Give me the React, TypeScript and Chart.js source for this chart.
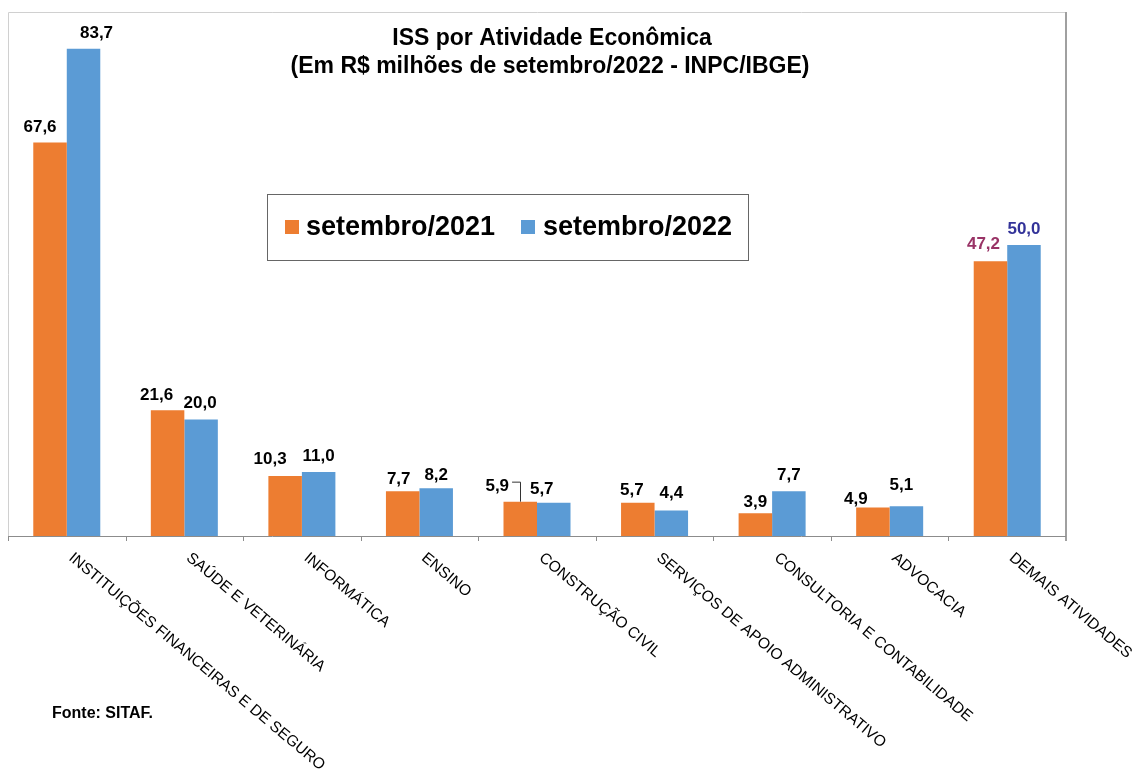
import React, { useEffect, useRef } from "react";
import { Chart, registerables } from "chart.js";

Chart.register(...registerables);

const categories = [
  "INSTITUIÇÕES FINANCEIRAS E DE SEGURO",
  "SAÚDE E VETERINÁRIA",
  "INFORMÁTICA",
  "ENSINO",
  "CONSTRUÇÃO CIVIL",
  "SERVIÇOS DE APOIO ADMINISTRATIVO",
  "CONSULTORIA E CONTABILIDADE",
  "ADVOCACIA",
  "DEMAIS ATIVIDADES",
];
const sep2021 = [67.6, 21.6, 10.3, 7.7, 5.9, 5.7, 3.9, 4.9, 47.2];
const sep2022 = [83.7, 20.0, 11.0, 8.2, 5.7, 4.4, 7.7, 5.1, 50.0];
const seriesNames = ["setembro/2021", "setembro/2022"];
const titleLines = ["ISS por Atividade Econômica", "(Em R$ milhões de setembro/2022 - INPC/IBGE)"];
const sourceText = "Fonte: SITAF.";

// label nudges (px) relative to bar center / bar top
const labelDx = [
  [-10, -11, -15, -4, -23, -6, 0, -17, -7],
  [13, -1, 0, 0, -12, 0, 0, -5, 0],
];
const labelDy = [
  [-15, -15, -17, -12, -15, -13, -11, -8, -17],
  [-15, -16, -16, -13, -14, -17, -16, -21, -16],
];
const labelColors = [
  ["#000", "#000", "#000", "#000", "#000", "#000", "#000", "#000", "#993366"],
  ["#000", "#000", "#000", "#000", "#000", "#000", "#000", "#000", "#333399"],
];
const ORANGE = "#ED7D31";
const BLUE = "#5B9BD5";
const FONT = "'Liberation Sans', Arial, sans-serif";

const fmt = (v: number) => v.toFixed(1).replace(".", ",");

const decorPlugin = {
  id: "decor",
  afterDatasetsDraw(chart: any) {
    const ctx = chart.ctx as CanvasRenderingContext2D;
    const ca = chart.chartArea;
    const xs = chart.scales.x;
    ctx.save();

    // frame
    ctx.lineWidth = 1;
    ctx.strokeStyle = "#d0d0d0";
    ctx.beginPath();
    ctx.moveTo(ca.left + 0.5, ca.bottom);
    ctx.lineTo(ca.left + 0.5, ca.top + 0.5);
    ctx.lineTo(ca.right, ca.top + 0.5);
    ctx.stroke();
    ctx.strokeStyle = "#a0a0a0";
    ctx.lineWidth = 2;
    ctx.beginPath();
    ctx.moveTo(ca.right, ca.top);
    ctx.lineTo(ca.right, ca.bottom + 5);
    ctx.stroke();

    // x axis line + ticks
    ctx.strokeStyle = "#8c8c8c";
    ctx.lineWidth = 1;
    ctx.beginPath();
    ctx.moveTo(ca.left, ca.bottom + 0.5);
    ctx.lineTo(ca.right, ca.bottom + 0.5);
    const n = categories.length;
    const step = (ca.right - ca.left) / n;
    for (let i = 0; i < n; i++) {
      const tx = Math.round(ca.left + i * step) + 0.5;
      ctx.moveTo(tx, ca.bottom);
      ctx.lineTo(tx, ca.bottom + 5);
    }
    ctx.stroke();

    // category labels (rotated clockwise)
    ctx.fillStyle = "#000";
    ctx.font = `15.5px ${FONT}`;
    ctx.textAlign = "left";
    ctx.textBaseline = "top";
    categories.forEach((c, i) => {
      const cx = xs.getPixelForValue(i);
      ctx.save();
      ctx.translate(cx + 9, ca.bottom + 14);
      ctx.rotate((40 * Math.PI) / 180);
      ctx.fillText(c, 0, 0);
      ctx.restore();
    });

    // data labels
    ctx.font = `bold 17px ${FONT}`;
    ctx.textAlign = "center";
    ctx.textBaseline = "middle";
    [0, 1].forEach((d) => {
      const meta = chart.getDatasetMeta(d);
      meta.data.forEach((bar: any, i: number) => {
        const v = chart.data.datasets[d].data[i] as number;
        const lx = bar.x + labelDx[d][i];
        const ly = bar.y + labelDy[d][i];
        ctx.fillStyle = labelColors[d][i];
        const t = fmt(v);
        ctx.fillText(t, lx, ly);
        if (d === 0 && i === 4) {
          const w = ctx.measureText(t).width;
          ctx.strokeStyle = "#333";
          ctx.lineWidth = 1;
          ctx.beginPath();
          ctx.moveTo(lx + w / 2 + 3, ly - 4.5);
          ctx.lineTo(Math.round(bar.x) + 0.5, ly - 4.5);
          ctx.lineTo(Math.round(bar.x) + 0.5, bar.y);
          ctx.stroke();
        }
      });
    });

    // title
    ctx.fillStyle = "#000";
    ctx.font = `bold 23px ${FONT}`;
    ctx.textAlign = "center";
    ctx.textBaseline = "middle";
    ctx.fillText(titleLines[0], 552, 39);
    ctx.fillText(titleLines[1], 550, 67);

    // legend
    ctx.fillStyle = "#fff";
    ctx.fillRect(267, 194, 481, 66);
    ctx.strokeStyle = "#666";
    ctx.lineWidth = 1;
    ctx.strokeRect(267.5, 194.5, 481, 66);
    ctx.fillStyle = ORANGE;
    ctx.fillRect(285, 220, 14, 14);
    ctx.fillStyle = BLUE;
    ctx.fillRect(521, 220, 14, 14);
    ctx.fillStyle = "#000";
    ctx.font = `bold 27px ${FONT}`;
    ctx.textAlign = "left";
    ctx.fillText(seriesNames[0], 306, 228);
    ctx.fillText(seriesNames[1], 543, 228);

    // source
    ctx.font = `bold 16px ${FONT}`;
    ctx.fillText(sourceText, 52, 714);

    ctx.restore();
  },
};

export default function App() {
  const ref = useRef<HTMLCanvasElement>(null);
  useEffect(() => {
    if (!ref.current) return;
    const chart = new Chart(ref.current, {
      type: "bar",
      data: {
        labels: categories,
        datasets: [
          {
            label: seriesNames[0],
            data: sep2021,
            backgroundColor: ORANGE,
            borderWidth: 0,
            categoryPercentage: 0.57,
            barPercentage: 1,
          },
          {
            label: seriesNames[1],
            data: sep2022,
            backgroundColor: BLUE,
            borderWidth: 0,
            categoryPercentage: 0.57,
            barPercentage: 1,
          },
        ],
      },
      options: {
        animation: false,
        responsive: false,
        maintainAspectRatio: false,
        layout: { padding: { left: 8, top: 12, right: 70, bottom: 237 } },
        plugins: {
          legend: { display: false },
          title: { display: false },
          tooltip: { enabled: false },
        },
        scales: {
          x: { display: false },
          y: { display: false, min: 0, max: 90 },
        },
      },
      plugins: [decorPlugin],
    });
    return () => chart.destroy();
  }, []);
  return (
    <div style={{ position: "fixed", left: 0, top: 0, width: 1136, height: 773, background: "#fff" }}>
      <canvas ref={ref} width={1136} height={773} style={{ display: "block" }} />
    </div>
  );
}
